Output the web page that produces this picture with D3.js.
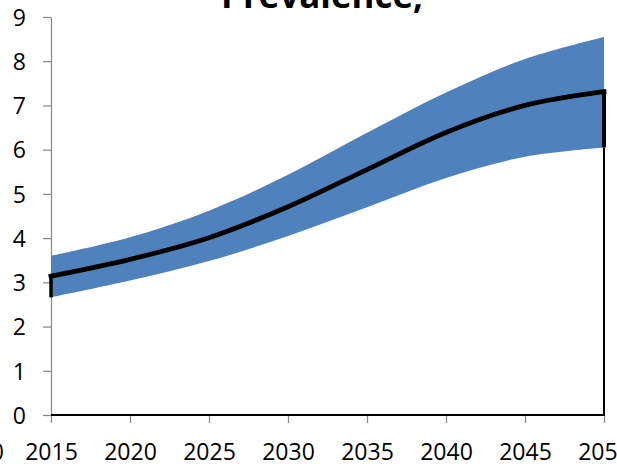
<!DOCTYPE html>
<html>
<head>
<meta charset="utf-8">
<script src="https://cdn.jsdelivr.net/npm/d3@7"></script>
<style>
  html, body { margin: 0; padding: 0; background: #fff; }
  svg { display: block; }
</style>
</head>
<body>
<svg id="chart" width="617" height="469"></svg>
<script>
// Projected prevalence, central estimate with uncertainty band
const years = [2015, 2020, 2025, 2030, 2035, 2040, 2045, 2050];
const central = [3.14, 3.52, 4.01, 4.71, 5.55, 6.39, 7.00, 7.31];
const upperBound = [3.60, 4.02, 4.62, 5.43, 6.38, 7.29, 8.05, 8.55];
const lowerBound = [2.66, 3.04, 3.48, 4.05, 4.70, 5.36, 5.84, 6.05];
const yTicks = [0, 1, 2, 3, 4, 5, 6, 7, 8, 9];
const titleText = "Prevalence,";

const svg = d3.select("#chart");
const font = "'Open Sans', 'DejaVu Sans', sans-serif";
const axisGrey = "#868686";
const bandBlue = "#4F81BD";

const x = d3.scaleLinear().domain([2015, 2050]).range([51, 604]);
const y = d3.scaleLinear().domain([0, 9]).range([415, 17]);

const rows = years.map((yr, i) => ({ yr, mid: central[i], hi: upperBound[i], lo: lowerBound[i] }));
const smooth = d3.curveCatmullRom.alpha(0.5);

// Axes
const yAxis = svg.append("g")
  .attr("transform", `translate(${x(2015)},0)`)
  .call(d3.axisLeft(y).tickValues(yTicks).tickFormat(d3.format("d"))
    .tickSize(8).tickSizeOuter(0).tickPadding(17));

const xAxis = svg.append("g")
  .attr("transform", `translate(0,${y(0)})`)
  .call(d3.axisBottom(x).tickValues(years).tickFormat(d3.format("d"))
    .tickSize(8).tickSizeOuter(0).tickPadding(21));

[yAxis, xAxis].forEach(g => {
  g.select(".domain").attr("stroke", axisGrey).attr("stroke-width", 1.2);
  g.selectAll(".tick line").attr("stroke", axisGrey).attr("stroke-width", 1.2);
  g.selectAll(".tick text")
    .attr("fill", "#000")
    .style("font-family", font)
    .style("font-size", "23px");
});
yAxis.selectAll(".tick text").attr("dy", "0.36em");

// Trailing digit of the neighbouring panel's last year label
svg.append("text")
  .attr("x", 4).attr("y", 460)
  .attr("text-anchor", "end")
  .style("font-family", font).style("font-size", "23px")
  .attr("fill", "#000")
  .text("0");

// Uncertainty band
const band = d3.area()
  .x(d => x(d.yr))
  .y0(d => y(d.lo))
  .y1(d => y(d.hi))
  .curve(smooth);

svg.append("path")
  .datum(rows)
  .attr("d", band)
  .attr("fill", bandBlue);

// Thin outline along the base of the lower series
const straight = d3.line().x(d => x(d[0])).y(d => y(d[1]));
const last = rows[rows.length - 1];
const first = rows[0];
svg.append("path")
  .attr("d", straight([[last.yr, last.lo], [last.yr, 0], [first.yr, 0]]))
  .attr("fill", "none")
  .attr("stroke", "#000")
  .attr("stroke-width", 2);

// Central estimate with its end drops to the lower bound
const midLine = d3.line()
  .x(d => x(d.yr))
  .y(d => y(d.mid))
  .curve(smooth);

svg.append("path")
  .attr("d", straight([[first.yr, first.lo], [first.yr, first.mid]]))
  .attr("fill", "none").attr("stroke", "#000").attr("stroke-width", 3.5);

svg.append("path")
  .attr("d", straight([[last.yr, last.mid], [last.yr, last.lo]]))
  .attr("fill", "none").attr("stroke", "#000").attr("stroke-width", 4);

svg.append("path")
  .datum(rows)
  .attr("d", midLine)
  .attr("fill", "none")
  .attr("stroke", "#000")
  .attr("stroke-width", 4.8)
  .attr("stroke-linecap", "square")
  .attr("stroke-linejoin", "miter");

// Title, partly above the frame
const title = svg.append("text")
  .attr("x", 322).attr("y", 8)
  .attr("text-anchor", "middle")
  .style("font-family", font)
  .style("font-weight", "bold")
  .style("font-size", "40px")
  .attr("fill", "#000")
  .text(titleText);
const w = title.node().getComputedTextLength();
if (w > 0) title.style("font-size", (40 * 202 / w).toFixed(2) + "px");
</script>
</body>
</html>
